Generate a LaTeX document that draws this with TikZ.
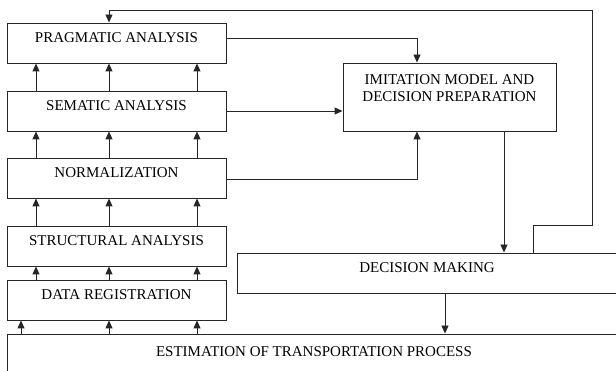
\documentclass[tikz,border=0pt]{standalone}
\usepackage{fontspec}
\setmainfont{Liberation Serif}
\usetikzlibrary{arrows.meta}
\begin{document}
\begin{tikzpicture}[x=1pt,y=-1pt,line width=0.9pt,draw=black!85]
\tikzstyle{every node}+=[inner sep=0pt,text=black,font=\fontsize{15}{17}\selectfont]
\tikzstyle{blk}=[draw=black!85,rectangle,minimum width=219pt,text height=20pt,text depth=20pt]
\tikzstyle{arr}=[-{Triangle[length=8pt,width=7pt]}]
\useasboundingbox (0,0) rectangle (616,371);
\node [blk] (prag) at (116.5,43) {PRAGMATIC ANALYSIS};
\node [blk] (sem) at (116.5,111) {SEMATIC ANALYSIS};
\node [blk] (norm) at (116.5,178) {NORMALIZATION};
\node [blk] (struct) at (116.5,246) {STRUCTURAL ANALYSIS};
\node [blk] (reg) at (116.5,300) {DATA REGISTRATION};
\node [blk,minimum width=614pt,text height=22pt,text depth=22pt] (estim) at (314,356) {ESTIMATION OF TRANSPORTATION PROCESS};
\node [blk,minimum width=380pt] (dec) at (427,273) {DECISION MAKING};
\node [draw=black!85,minimum width=213pt,minimum height=68pt] (imit) at (449.5,97) {};
\node [align=center] (imittext) at (449.5,88.5) {IMITATION MODEL AND\\DECISION PREPARATION};
\foreach \lo/\hi in {sem/prag,norm/sem,struct/norm,reg/struct}
  \foreach \x in {36,109,197}
    \draw [arr] (\lo.north -| \x,0) -- (\hi.south -| \x,0);
\foreach \x in {21,109,197}
  \draw [arr] (estim.north -| \x,0) -- (reg.south -| \x,0);
\draw [arr] ([yshift=5pt]prag.east) -| ([xshift=-32.5pt]imit.north);
\draw [arr] (sem.east) -- (sem.east -| imit.west);
\draw [arr] ([yshift=-1.5pt]norm.east) -| ([xshift=-32.5pt]imit.south);
\draw [arr] ([xshift=54.5pt]imit.south) -- ([xshift=54.5pt]imit.south |- dec.north);
\draw [arr] ([xshift=18pt]dec.south) -- ([xshift=18pt]dec.south |- estim.north);
\draw [arr] ([xshift=106pt]dec.north) -- ++(0,-27) -| (592,10) -| (prag.north -| 109,0);
\end{tikzpicture}
\end{document}
